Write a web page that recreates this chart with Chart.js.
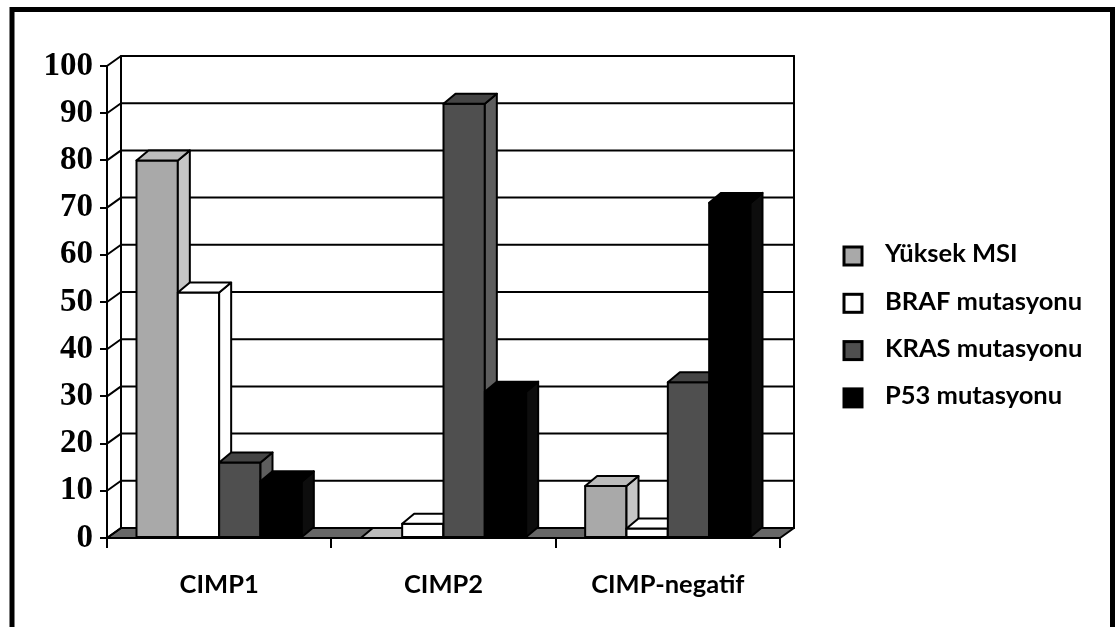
<!DOCTYPE html>
<html>
<head>
<meta charset="utf-8">
<script src="https://cdn.jsdelivr.net/npm/chart.js@4.4.1/dist/chart.umd.min.js"></script>
<style>
  html, body { margin: 0; padding: 0; background: #ffffff; }
  #wrap { width: 1115px; height: 627px; }
</style>
</head>
<body>
<div id="wrap"><canvas id="chart" width="1115" height="627"></canvas></div>
<script>
// Groups on the x axis
const categories = ['CIMP1', 'CIMP2', 'CIMP-negatif'];

// Series (percent of cases)
const yuksekMSI = [80, 0, 11];
const brafMutasyonu = [52, 3, 2];
const krasMutasyonu = [16, 92, 33];
const p53Mutasyonu = [12, 31, 71];

const seriesNames = ['Yüksek MSI', 'BRAF mutasyonu', 'KRAS mutasyonu', 'P53 mutasyonu'];

// Value axis
const yMin = 0;
const yMax = 100;
const yStep = 10;

// Face shades for each series: front, top, side
const shades = [
  { front: '#a9a9a9', top: '#bcbcbc', side: '#c6c6c6' },
  { front: '#ffffff', top: '#ffffff', side: '#ffffff' },
  { front: '#4f4f4f', top: '#454545', side: '#5e5e5e' },
  { front: '#000000', top: '#000000', side: '#0d0d0d' }
];

const labelFont = '"Lato", "Open Sans", sans-serif';

// Depth of the walls and of the bars (pixels right / up)
const WALL_DX = 14, WALL_DY = -10;
const BAR_DX = 12, BAR_DY = -10;

function poly(ctx, pts, fill) {
  ctx.beginPath();
  ctx.moveTo(pts[0][0], pts[0][1]);
  for (let i = 1; i < pts.length; i++) ctx.lineTo(pts[i][0], pts[i][1]);
  ctx.closePath();
  if (fill) { ctx.fillStyle = fill; ctx.fill(); }
  ctx.stroke();
}

const pageBackground = {
  id: 'pageBackground',
  beforeDraw(chart) {
    const ctx = chart.ctx;
    ctx.save();
    ctx.fillStyle = '#ffffff';
    ctx.fillRect(0, 0, chart.width, chart.height);
    ctx.restore();
  }
};

// Floor, back wall, side wall and the bars drawn as boxes
const box3d = {
  id: 'box3d',
  beforeDatasetsDraw(chart) {
    const ctx = chart.ctx;
    const { left, right, bottom } = chart.chartArea;
    const y = chart.scales.y;
    ctx.save();
    ctx.strokeStyle = '#000000';
    ctx.lineWidth = 2;
    ctx.lineJoin = 'round';
    ctx.lineCap = 'round';

    // floor
    poly(ctx, [[left, bottom], [right, bottom], [right + WALL_DX, bottom + WALL_DY], [left + WALL_DX, bottom + WALL_DY]], '#676767');

    // gridlines on the back wall, joined to the front axis across the side wall
    const topBack = y.getPixelForValue(yMax) + WALL_DY;
    y.ticks.forEach(t => {
      const py = y.getPixelForValue(t.value);
      ctx.beginPath();
      ctx.moveTo(left, py);
      ctx.lineTo(left + WALL_DX, py + WALL_DY);
      ctx.lineTo(right + WALL_DX, py + WALL_DY);
      ctx.stroke();
    });
    ctx.beginPath();
    ctx.moveTo(left + WALL_DX, topBack);
    ctx.lineTo(left + WALL_DX, bottom + WALL_DY);
    ctx.moveTo(right + WALL_DX, topBack);
    ctx.lineTo(right + WALL_DX, bottom + WALL_DY);
    ctx.stroke();

    // bars, left to right inside each group
    const nCat = chart.data.labels.length;
    for (let i = 0; i < nCat; i++) {
      chart.data.datasets.forEach((ds, d) => {
        const el = chart.getDatasetMeta(d).data[i];
        if (!el) return;
        const s = shades[d];
        const x0 = el.x - el.width / 2;
        const x1 = el.x + el.width / 2;
        const yt = el.y;
        const yb = el.base;
        // front
        ctx.fillStyle = s.front;
        ctx.fillRect(x0, yt, x1 - x0, yb - yt);
        ctx.strokeRect(x0, yt, x1 - x0, yb - yt);
        // side
        poly(ctx, [[x1, yt], [x1 + BAR_DX, yt + BAR_DY], [x1 + BAR_DX, yb + BAR_DY], [x1, yb]], s.side);
        // top
        poly(ctx, [[x0, yt], [x1, yt], [x1 + BAR_DX, yt + BAR_DY], [x0 + BAR_DX, yt + BAR_DY]], s.top);
      });
    }
    ctx.restore();
    return false;
  }
};

// Legend on the right and the outer frame
const sideLegend = {
  id: 'sideLegend',
  afterDraw(chart) {
    const ctx = chart.ctx;
    ctx.save();
    const boxX = 844, boxSize = 18, textX = 885;
    const firstY = 254, stepY = 47.3;
    ctx.font = 'bold 25.5px ' + labelFont;
    ctx.textBaseline = 'middle';
    ctx.textAlign = 'left';
    chart.data.datasets.forEach((ds, d) => {
      const cy = firstY + d * stepY;
      ctx.fillStyle = shades[d].front;
      ctx.strokeStyle = '#000000';
      ctx.lineWidth = 3;
      ctx.fillRect(boxX, cy - boxSize / 2 + 2, boxSize, boxSize);
      ctx.strokeRect(boxX, cy - boxSize / 2 + 2, boxSize, boxSize);
      ctx.fillStyle = '#000000';
      ctx.fillText(ds.label, textX, cy);
    });
    // frame
    ctx.lineWidth = 5;
    ctx.strokeStyle = '#000000';
    ctx.strokeRect(12, 9.5, 1100.5, 640);
    ctx.restore();
  }
};

const datasets = [yuksekMSI, brafMutasyonu, krasMutasyonu, p53Mutasyonu].map((vals, d) => ({
  label: seriesNames[d],
  data: vals,
  backgroundColor: shades[d].front,
  borderColor: '#000000',
  borderWidth: 2,
  categoryPercentage: 0.737,
  barPercentage: 1.0
}));

new Chart(document.getElementById('chart'), {
  type: 'bar',
  data: { labels: categories, datasets: datasets },
  plugins: [pageBackground, box3d, sideLegend],
  options: {
    responsive: false,
    animation: false,
    devicePixelRatio: 1,
    layout: { padding: { left: 0, right: 335, top: 66, bottom: 29 } },
    plugins: {
      legend: { display: false },
      tooltip: { enabled: false }
    },
    scales: {
      x: {
        afterFit(scale) { scale.height = 60; },
        grid: { display: true, drawOnChartArea: false, offset: true, color: '#000000', lineWidth: 2, tickLength: 10 },
        border: { display: true, color: '#000000', width: 2 },
        ticks: {
          color: '#000000',
          padding: 21,
          font: { family: labelFont, size: 25.5, weight: 'bold' }
        }
      },
      y: {
        min: yMin,
        max: yMax,
        afterFit(scale) { scale.width = 107; },
        grid: { display: true, drawOnChartArea: false, color: '#000000', lineWidth: 2, tickLength: 7 },
        border: { display: true, color: '#000000', width: 2 },
        ticks: {
          stepSize: yStep,
          color: '#000000',
          padding: 7,
          font: { family: '"Liberation Serif", "Times New Roman", serif', size: 33, weight: 'bold' }
        }
      }
    }
  }
});
</script>
</body>
</html>
